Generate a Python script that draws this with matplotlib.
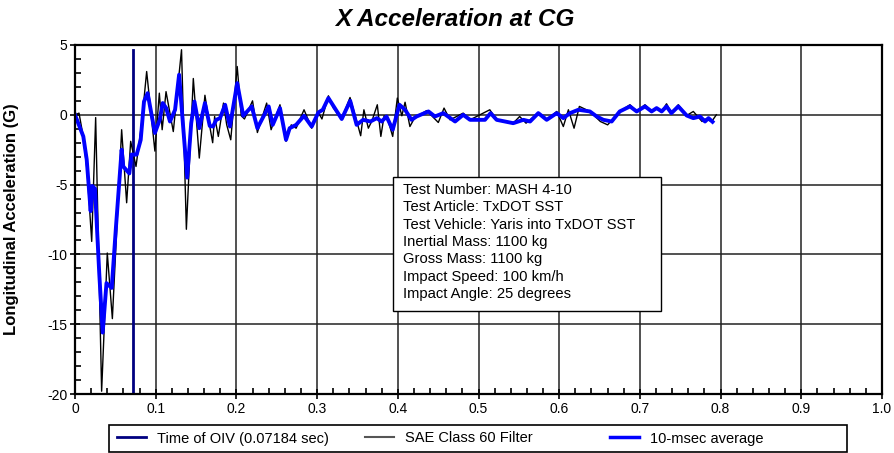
"""
X Acceleration at CG - MASH 4-10, TxDOT SST.
Filtered SAE Class 60 signal, 10-msec average and time of OIV.
"""
import matplotlib.pyplot as plt
from matplotlib.patches import Rectangle
from matplotlib.lines import Line2D
from matplotlib.ticker import MultipleLocator, FuncFormatter

# SAE Class 60 filter (time in s, acceleration in G)
t_sae = [0.000, 0.005, 0.010, 0.015, 0.0207, 0.0256, 0.033, 0.040, 0.0463, 0.0578,
         0.064, 0.069, 0.0756, 0.0826, 0.0888, 0.099, 0.1045, 0.108, 0.1128, 0.1218,
         0.132, 0.138, 0.1466, 0.154, 0.161, 0.1665, 0.1706, 0.173, 0.1776, 0.184,
         0.188, 0.193, 0.201, 0.206, 0.210, 0.220, 0.226, 0.2375, 0.243, 0.254,
         0.2615, 0.268, 0.274, 0.2838, 0.2933, 0.3016, 0.306, 0.314, 0.320, 0.3305,
         0.3408, 0.349, 0.354, 0.358, 0.3635, 0.368, 0.3746, 0.379, 0.383, 0.388,
         0.3937, 0.3994, 0.405, 0.409, 0.415, 0.421, 0.4358, 0.4502, 0.4573, 0.4647,
         0.481, 0.4895, 0.514, 0.5225, 0.543, 0.551, 0.5589, 0.5741, 0.5845, 0.597,
         0.6051, 0.6114, 0.6184, 0.625, 0.638, 0.651, 0.660, 0.675, 0.6877, 0.696,
         0.7063, 0.7145, 0.7207, 0.727, 0.733, 0.739, 0.7476, 0.758, 0.7662, 0.777,
         0.7807, 0.789, 0.7947]
g_sae = [0.0, 0.12, -1.5, -4.0, -9.07, -0.2, -19.8, -9.9, -14.6, -1.07,
         -6.3, -1.9, -3.7, -0.6, 3.1, -2.6, 1.55, -1.07, 1.66, -1.2,
         4.66, -8.2, 2.6, -3.1, 1.4, -0.66, -2.0, -0.12, -1.55, 0.84,
         -0.72, -1.79, 3.46, -0.07, -0.3, 1.0, -1.27, 0.84, -1.07, 0.72,
         -1.9, -0.72, -0.96, 0.36, -0.96, 0.17, -0.3, 1.36, 0.5, -0.3,
         1.24, -0.43, -1.5, 0.36, -0.96, -0.43, 0.72, -1.55, -0.07, -0.43,
         -1.55, 1.2, -0.07, 0.9, -0.84, -0.2, 0.3, -0.55, 0.48, -0.36,
         0.12, -0.36, 0.36, -0.36, -0.6, -0.12, -0.6, 0.12, -0.36, 0.24,
         -0.84, 0.36, -0.96, 0.6, 0.24, -0.48, -0.72, 0.24, 0.72, 0.24,
         0.72, 0.24, 0.48, 0.24, 0.79, 0.12, 0.72, -0.05, 0.24, -0.48,
         -0.3, -0.48, 0.0]

# 10-msec average
t_avg = [0.000, 0.0103, 0.0145, 0.0194, 0.0215, 0.0248, 0.030, 0.0343, 0.039, 0.0455,
         0.0508, 0.0578, 0.0598, 0.0673, 0.070, 0.0764, 0.0814, 0.0855, 0.090, 0.099,
         0.105, 0.1087, 0.113, 0.1177, 0.124, 0.129, 0.134, 0.139, 0.144, 0.148,
         0.154, 0.161, 0.167, 0.171, 0.175, 0.1797, 0.186, 0.192, 0.201, 0.2085,
         0.219, 0.226, 0.240, 0.245, 0.254, 0.2615, 0.266, 0.274, 0.2838, 0.2933,
         0.3016, 0.307, 0.314, 0.3305, 0.341, 0.349, 0.357, 0.366, 0.374, 0.380,
         0.386, 0.3937, 0.402, 0.409, 0.417, 0.4233, 0.438, 0.446, 0.4564, 0.471,
         0.481, 0.4895, 0.508, 0.515, 0.5225, 0.543, 0.5556, 0.5639, 0.5741, 0.5845,
         0.597, 0.6051, 0.6134, 0.6237, 0.638, 0.6465, 0.6547, 0.665, 0.675, 0.6877,
         0.696, 0.7063, 0.7145, 0.7207, 0.727, 0.733, 0.739, 0.7476, 0.758, 0.7662,
         0.7745, 0.7807, 0.785, 0.790]
g_avg = [0.0, -1.55, -3.2, -6.9, -5.1, -5.3, -11.3, -15.6, -12.06, -12.4,
         -8.0, -2.5, -3.7, -4.2, -2.85, -2.85, -1.8, 0.95, 1.55, -1.3,
         -0.36, 0.84, 0.48, -0.48, 0.36, 2.87, -0.84, -4.5, -0.6, 0.95,
         -0.96, 0.84, -0.8, -0.84, -0.36, -0.24, 0.72, -0.84, 2.27, -0.07,
         0.6, -0.96, 0.6, -0.72, 0.48, -1.79, -0.96, -0.72, -0.07, -0.84,
         0.17, 0.36, 1.2, -0.3, 1.0, -0.72, -0.36, -0.48, -0.24, -0.48,
         -0.12, -1.07, 0.72, 0.36, -0.36, -0.12, 0.24, -0.12, 0.12, -0.48,
         0.0, -0.36, -0.36, 0.12, -0.36, -0.6, -0.36, -0.48, 0.12, -0.36,
         0.12, -0.24, 0.12, 0.36, 0.24, -0.12, -0.36, -0.48, 0.24, 0.6,
         0.24, 0.6, 0.24, 0.48, 0.24, 0.6, 0.12, 0.6, -0.05, -0.24,
         -0.12, -0.48, -0.24, -0.5]

# time of OIV and the height of its marker line
t_oiv = 0.07184
oiv_span = [-20, 4.65]

info_lines = ["Test Number: MASH 4-10",
              "Test Article: TxDOT SST",
              "Test Vehicle: Yaris into TxDOT SST",
              "Inertial Mass: 1100 kg",
              "Gross Mass: 1100 kg",
              "Impact Speed: 100 km/h",
              "Impact Angle: 25 degrees"]

legend_labels = ['Time of OIV (0.07184 sec)', 'SAE Class 60 Filter', '10-msec average']

plt.rcParams['font.family'] = ['Liberation Sans', 'DejaVu Sans']

W, H = 894, 453
fig = plt.figure(figsize=(W / 100, H / 100), dpi=100)
ax = fig.add_axes([75 / W, 1 - 394 / H, 807 / W, 349 / H])

# grid first, curves on top
ax.set_axisbelow(True)
ax.grid(True, which='major', color='#222222', linewidth=1.1)

ax.plot([t_oiv, t_oiv], oiv_span, color='#000080', linewidth=2)
ax.plot(t_sae, g_sae, color='black', linewidth=1)
ax.plot(t_avg, g_avg, color='#0000ff', linewidth=2.8)

ax.set_xlim(0, 1.0)
ax.set_ylim(-20, 5)
ax.xaxis.set_major_locator(MultipleLocator(0.1))
ax.xaxis.set_minor_locator(MultipleLocator(0.02))
ax.yaxis.set_major_locator(MultipleLocator(5))
ax.yaxis.set_minor_locator(MultipleLocator(1))
ax.xaxis.set_major_formatter(FuncFormatter(lambda v, p: '0' if abs(v) < 1e-9 else f'{v:.1f}'))
ax.yaxis.set_major_formatter(FuncFormatter(lambda v, p: f'{v:.0f}'))
ax.tick_params(which='major', direction='inout', length=7, width=1.2, labelsize=10, pad=2)
ax.tick_params(which='minor', direction='in', length=4, width=1.2)
for s in ax.spines.values():
    s.set_linewidth(1.6)

# title and y label
fig.text(455 / W, 1 - 19 / H, 'X Acceleration at CG', fontsize=17.5, fontweight='bold',
         style='italic', ha='center', va='center')
ax.set_ylabel('Longitudinal Acceleration (G)', fontsize=12, fontweight='bold')
ax.yaxis.set_label_coords((19 - 75) / 807, 0.5)

# box with the test data
ax.add_patch(Rectangle(((393 - 75) / 807, (394 - 311) / 349), 268 / 807, 134 / 349,
                       transform=ax.transAxes, facecolor='white', edgecolor='black',
                       linewidth=1, zorder=5))
ax.text((403 - 75) / 807, (394 - 183) / 349, "\n".join(info_lines), transform=ax.transAxes,
        fontsize=10.6, va='top', ha='left', linespacing=1.3, zorder=6)

# legend under the plot: frame plus three fixed columns
fig.patches.append(Rectangle((109 / W, 1 - 452 / H), 738 / W, 27 / H, transform=fig.transFigure,
                             facecolor='white', edgecolor='black', linewidth=1.2))
handles = [Line2D([], [], color='#000080', linewidth=2),
           Line2D([], [], color='#555555', linewidth=1.5),
           Line2D([], [], color='#0000ff', linewidth=2.5)]
col_x = [117, 365, 610]
for h, lab, x in zip(handles, legend_labels, col_x):
    fig.legend(handles=[h], labels=[lab], loc='center left', bbox_to_anchor=(x / W, 1 - 438.5 / H),
               frameon=False, fontsize=10.5, borderpad=0, borderaxespad=0,
               handlelength=2.0, handletextpad=0.75)

plt.savefig('out.png', dpi=100)
